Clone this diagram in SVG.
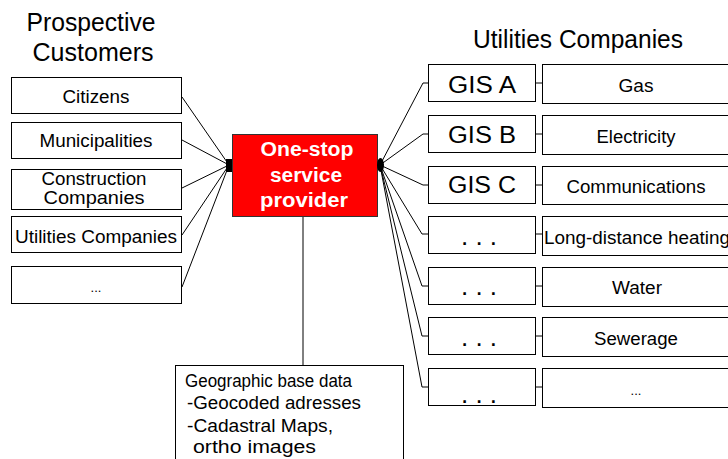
<svg xmlns="http://www.w3.org/2000/svg" width="728" height="459" viewBox="0 0 728 459">
<style>
.bx{fill:#fff;stroke:#000;stroke-width:1}
.ln{fill:none;stroke:#000;stroke-width:1}
.t{font-family:"Liberation Sans",Arial,sans-serif;fill:#000}
.m{text-anchor:middle}
.s16{font-size:17.5px}
.s22{font-size:23.5px}
.s23{font-size:25px}
.w{font-weight:bold;fill:#fff;font-size:19.5px}
</style>
<rect width="728" height="459" fill="#fff"/>
<text class="t m s23" x="91" y="31" textLength="129" lengthAdjust="spacingAndGlyphs">Prospective</text>
<text class="t m s23" x="93" y="61" textLength="121" lengthAdjust="spacingAndGlyphs">Customers</text>
<text class="t m s23" x="578" y="48" textLength="210" lengthAdjust="spacingAndGlyphs">Utilities Companies</text>
<g id="connectors">
<polyline class="ln" points="182,97 229,165"/>
<polyline class="ln" points="182,140 229,165"/>
<polyline class="ln" points="182,188 229,165"/>
<polyline class="ln" points="182,235 229,165"/>
<polyline class="ln" points="182,287 229,165"/>
<polyline class="ln" points="380,165 423,83 428,83"/>
<polyline class="ln" points="380,165 423,134 428,134"/>
<polyline class="ln" points="380,165 423,185 428,185"/>
<polyline class="ln" points="380,165 422,234 428,234"/>
<polyline class="ln" points="380,165 422,286 428,286"/>
<polyline class="ln" points="380,165 422,336 428,336"/>
<polyline class="ln" points="380,165 422,387 428,387"/>
<line class="ln" x1="535" y1="83" x2="542" y2="83"/>
<line class="ln" x1="535" y1="134" x2="542" y2="134"/>
<line class="ln" x1="535" y1="185" x2="542" y2="185"/>
<line class="ln" x1="535" y1="234" x2="542" y2="234"/>
<line class="ln" x1="535" y1="286" x2="542" y2="286"/>
<line class="ln" x1="535" y1="336" x2="542" y2="336"/>
<line class="ln" x1="535" y1="387" x2="542" y2="387"/>
<line class="ln" x1="303" y1="216" x2="303" y2="365"/>
</g>
<g id="citizens"><rect class="bx" x="11.5" y="77.5" width="170" height="36"/><text class="t m s16" x="96" y="103" textLength="67" lengthAdjust="spacingAndGlyphs">Citizens</text></g>
<g id="municipalities"><rect class="bx" x="11.5" y="122.5" width="170" height="36"/><text class="t m s16" x="96" y="147" textLength="113" lengthAdjust="spacingAndGlyphs">Municipalities</text></g>
<g id="construction"><rect class="bx" x="11.5" y="169.5" width="170" height="40"/><text class="t m s16" x="94" y="185" textLength="105" lengthAdjust="spacingAndGlyphs">Construction</text><text class="t m s16" x="94" y="204" textLength="101" lengthAdjust="spacingAndGlyphs">Companies</text></g>
<g id="utilities-customers"><rect class="bx" x="11.5" y="216.5" width="170" height="36"/><text class="t m s16" x="96" y="243" textLength="162" lengthAdjust="spacingAndGlyphs">Utilities Companies</text></g>
<g id="more-customers"><rect class="bx" x="11.5" y="266.5" width="170" height="37"/><text class="t m" x="96" y="292" style="font-size:13px">...</text></g>
<g id="provider">
<rect x="232.5" y="134.5" width="145" height="82" fill="#f00" stroke="#333" stroke-width="1"/>
<rect x="226" y="159" width="6" height="13" fill="#000"/>
<ellipse cx="380.5" cy="165" rx="3.5" ry="7" fill="#000"/>
<text class="t m w" x="307" y="156" textLength="93" lengthAdjust="spacingAndGlyphs">One-stop</text>
<text class="t m w" x="306" y="182" textLength="72" lengthAdjust="spacingAndGlyphs">service</text>
<text class="t m w" x="304" y="207" textLength="88" lengthAdjust="spacingAndGlyphs">provider</text>
</g>
<g id="geodata">
<rect class="bx" x="175.5" y="365.5" width="228" height="100"/>
<text class="t s16" x="185" y="387" textLength="167" lengthAdjust="spacingAndGlyphs">Geographic base data</text>
<text class="t s16" x="187" y="409" textLength="174" lengthAdjust="spacingAndGlyphs">-Geocoded adresses</text>
<text class="t s16" x="187" y="432" textLength="146" lengthAdjust="spacingAndGlyphs">-Cadastral Maps,</text>
<text class="t s16" x="193" y="453" textLength="123" lengthAdjust="spacingAndGlyphs">ortho images</text>
</g>
<g id="gis-a"><rect class="bx" x="428.5" y="64.5" width="107" height="37"/><text class="t m s22" x="482" y="93" textLength="68" lengthAdjust="spacingAndGlyphs">GIS A</text></g>
<g id="gis-b"><rect class="bx" x="428.5" y="115.5" width="107" height="37"/><text class="t m s22" x="482" y="143" textLength="68" lengthAdjust="spacingAndGlyphs">GIS B</text></g>
<g id="gis-c"><rect class="bx" x="428.5" y="166.5" width="107" height="37"/><text class="t m s22" x="482" y="193" textLength="68" lengthAdjust="spacingAndGlyphs">GIS C</text></g>
<g id="gis-d"><rect class="bx" x="428.5" y="216.5" width="107" height="37"/><text class="t m" x="479" y="245" style="font-size:26px">. . .</text></g>
<g id="gis-e"><rect class="bx" x="428.5" y="267.5" width="107" height="37"/><text class="t m" x="479" y="295" style="font-size:26px">. . .</text></g>
<g id="gis-f"><rect class="bx" x="428.5" y="317.5" width="107" height="37"/><text class="t m" x="479" y="346" style="font-size:26px">. . .</text></g>
<g id="gis-g"><rect class="bx" x="428.5" y="368.5" width="107" height="37"/><text class="t m" x="479" y="403" style="font-size:26px">. . .</text></g>
<g id="gas"><rect class="bx" x="542.5" y="64.5" width="200" height="39"/><text class="t m s16" x="636" y="92" textLength="35" lengthAdjust="spacingAndGlyphs">Gas</text></g>
<g id="electricity"><rect class="bx" x="542.5" y="115.5" width="200" height="39"/><text class="t m s16" x="636" y="143" textLength="79" lengthAdjust="spacingAndGlyphs">Electricity</text></g>
<g id="communications"><rect class="bx" x="542.5" y="166.5" width="200" height="38"/><text class="t m s16" x="636" y="193" textLength="139" lengthAdjust="spacingAndGlyphs">Communications</text></g>
<g id="heating"><rect class="bx" x="542.5" y="216.5" width="200" height="39"/><text class="t s16" x="544" y="244" textLength="186" lengthAdjust="spacingAndGlyphs">Long-distance heating</text></g>
<g id="water"><rect class="bx" x="542.5" y="267.5" width="200" height="39"/><text class="t m s16" x="637" y="294" textLength="50" lengthAdjust="spacingAndGlyphs">Water</text></g>
<g id="sewerage"><rect class="bx" x="542.5" y="317.5" width="200" height="39"/><text class="t m s16" x="636" y="345" textLength="84" lengthAdjust="spacingAndGlyphs">Sewerage</text></g>
<g id="more-utilities"><rect class="bx" x="542.5" y="368.5" width="200" height="39"/><text class="t m" x="636" y="395" style="font-size:13px">...</text></g>
</svg>
